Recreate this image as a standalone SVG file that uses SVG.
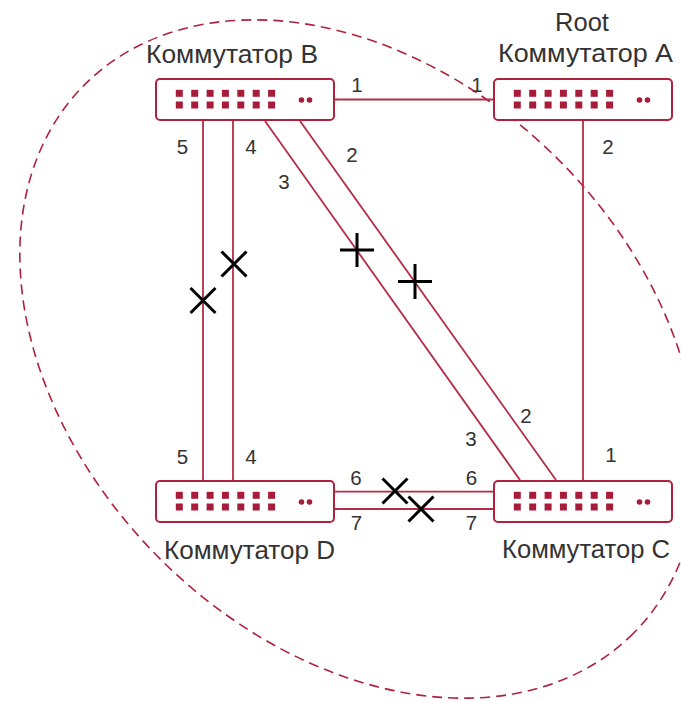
<svg xmlns="http://www.w3.org/2000/svg" width="681" height="702" viewBox="0 0 681 702">
<style>
.bg{fill:#ffffff}
.zone{fill:none;stroke:#b0213e;stroke-width:1.6;stroke-dasharray:10 6}
.sw{fill:#ffffff;stroke:#b0213e;stroke-width:2}
.port{fill:#a81c3a}
.link{stroke:#b42c46;stroke-width:1.8;fill:none}
.mark{stroke:#000000;stroke-width:3;fill:none}
.title{font-family:"Liberation Sans",Arial,sans-serif;font-size:25.5px;fill:#333333;text-anchor:middle}
.num{font-family:"Liberation Sans",Arial,sans-serif;font-size:20.5px;fill:#333333;text-anchor:middle}
</style>
<defs>
<g id="switch">
<rect class="sw" x="1" y="1" width="178" height="41" rx="4"/>
<g class="port">
<rect x="20.8" y="11.8" width="7" height="7"/><rect x="36.2" y="11.8" width="7" height="7"/><rect x="51.6" y="11.8" width="7" height="7"/><rect x="66.9" y="11.8" width="7" height="7"/><rect x="82.3" y="11.8" width="7" height="7"/><rect x="97.7" y="11.8" width="7" height="7"/><rect x="113.1" y="11.8" width="7" height="7"/>
<rect x="20.8" y="23.5" width="7" height="7"/><rect x="36.2" y="23.5" width="7" height="7"/><rect x="51.6" y="23.5" width="7" height="7"/><rect x="66.9" y="23.5" width="7" height="7"/><rect x="82.3" y="23.5" width="7" height="7"/><rect x="97.7" y="23.5" width="7" height="7"/><rect x="113.1" y="23.5" width="7" height="7"/>
<circle cx="146.5" cy="22" r="2.8"/><circle cx="154.5" cy="22" r="2.8"/>
</g>
</g>
</defs>
<rect class="bg" x="0" y="0" width="681" height="702"/>
<ellipse id="zone" class="zone" cx="359" cy="359" rx="388" ry="282" transform="rotate(45 359 359)"/>
<g id="connectors">
<line class="link" x1="335" y1="99.5" x2="493" y2="99.5"/>
<line class="link" x1="583" y1="121" x2="583" y2="480"/>
<line class="link" x1="203" y1="121" x2="203" y2="480"/>
<line class="link" x1="233" y1="121" x2="233" y2="480"/>
<line class="link" x1="265" y1="121" x2="520" y2="480"/>
<line class="link" x1="300" y1="121" x2="556" y2="480"/>
<line class="link" x1="335" y1="491.7" x2="493" y2="491.7"/>
<line class="link" x1="335" y1="509" x2="493" y2="509"/>
</g>
<g id="switch-b"><use href="#switch" x="155" y="78"/><text class="title" x="232" y="63" textLength="172" lengthAdjust="spacingAndGlyphs">Коммутатор B</text></g>
<g id="switch-a"><use href="#switch" x="493" y="78"/><text class="title" x="582" y="31">Root</text><text class="title" x="585.5" y="62" textLength="175" lengthAdjust="spacingAndGlyphs">Коммутатор A</text></g>
<g id="switch-d"><use href="#switch" x="155" y="480"/><text class="title" x="249.5" y="559" textLength="171" lengthAdjust="spacingAndGlyphs">Коммутатор D</text></g>
<g id="switch-c"><use href="#switch" x="493" y="480"/><text class="title" x="586" y="558" textLength="168" lengthAdjust="spacingAndGlyphs">Коммутатор C</text></g>
<g id="port-labels">
<text class="num" x="357" y="92">1</text>
<text class="num" x="477" y="92">1</text>
<text class="num" x="182.5" y="154">5</text>
<text class="num" x="251" y="154">4</text>
<text class="num" x="352" y="162">2</text>
<text class="num" x="284" y="189">3</text>
<text class="num" x="608" y="154">2</text>
<text class="num" x="526" y="423">2</text>
<text class="num" x="471" y="446">3</text>
<text class="num" x="611" y="462">1</text>
<text class="num" x="182.5" y="464">5</text>
<text class="num" x="251" y="464">4</text>
<text class="num" x="356" y="485">6</text>
<text class="num" x="471.5" y="485">6</text>
<text class="num" x="356.5" y="530">7</text>
<text class="num" x="471.5" y="530">7</text>
</g>
<g id="marks">
<path class="mark" d="M190.5 288 L215.5 313 M215.5 288 L190.5 313"/>
<path class="mark" d="M221.5 251.5 L246.5 276.5 M246.5 251.5 L221.5 276.5"/>
<path class="mark" d="M340 250 L374 250 M357 233 L357 267"/>
<path class="mark" d="M398 281.5 L432 281.5 M415 264 L415 299"/>
<path class="mark" d="M382.5 478.5 L407.5 503.5 M407.5 478.5 L382.5 503.5"/>
<path class="mark" d="M408.5 496.5 L433.5 521.5 M433.5 496.5 L408.5 521.5"/>
</g>
</svg>
